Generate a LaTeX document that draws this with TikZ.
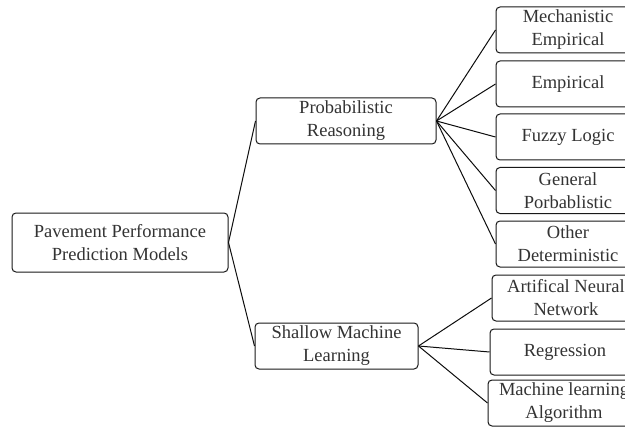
\documentclass[tikz,border=0pt]{standalone}
\usepackage{fontspec}
\setmainfont{Liberation Serif}
\begin{document}
\begin{tikzpicture}[x=1pt,y=-1pt,
  box/.style={draw=black!90,line width=1pt,rounded corners=4pt,align=center,inner sep=0pt,
    font=\fontsize{18.5}{23}\selectfont,text=black!80},
  link/.style={draw=black!95,line width=1pt}]
\clip (0,0) rectangle (625,428);
\fill[white] (0,0) rectangle (625,428);
\node[box,minimum width=216pt,minimum height=59pt] (root) at (120,242.5) {Pavement Performance\\Prediction Models};
\node[box,minimum width=180pt,minimum height=46pt] (prob) at (346,121) {Probabilistic\\Reasoning};
\node[box,minimum width=163pt,minimum height=46pt] (shal) at (336.5,346) {Shallow Machine\\Learning};
\node[box,minimum width=144pt,minimum height=46pt] (me) at (568,30) {Mechanistic\\Empirical};
\node[box,minimum width=144pt,minimum height=46pt] (emp) at (568,84) {Empirical};
\node[box,minimum width=144pt,minimum height=46pt] (fuz) at (568,137) {Fuzzy Logic};
\node[box,minimum width=144pt,minimum height=46pt] (gen) at (568,190.5) {General\\Porbablistic};
\node[box,minimum width=144pt,minimum height=46pt] (oth) at (568,244) {Other\\Deterministic};
\node[box,minimum width=148pt,minimum height=46pt] (ann) at (566,298) {Artifical Neural\\Network};
\node[box,minimum width=150pt,minimum height=46pt] (reg) at (565,352) {Regression};
\node[box,minimum width=152pt,minimum height=46pt] (ml) at (564,403) {Machine learning\\Algorithm};
\draw[link] (prob.west) -- (root.east) -- (shal.west);
\foreach \t in {me,emp,fuz,gen,oth} \draw[link] (prob.east) -- (\t.west);
\foreach \t in {ann,reg,ml} \draw[link] (shal.east) -- (\t.west);
\end{tikzpicture}
\end{document}
